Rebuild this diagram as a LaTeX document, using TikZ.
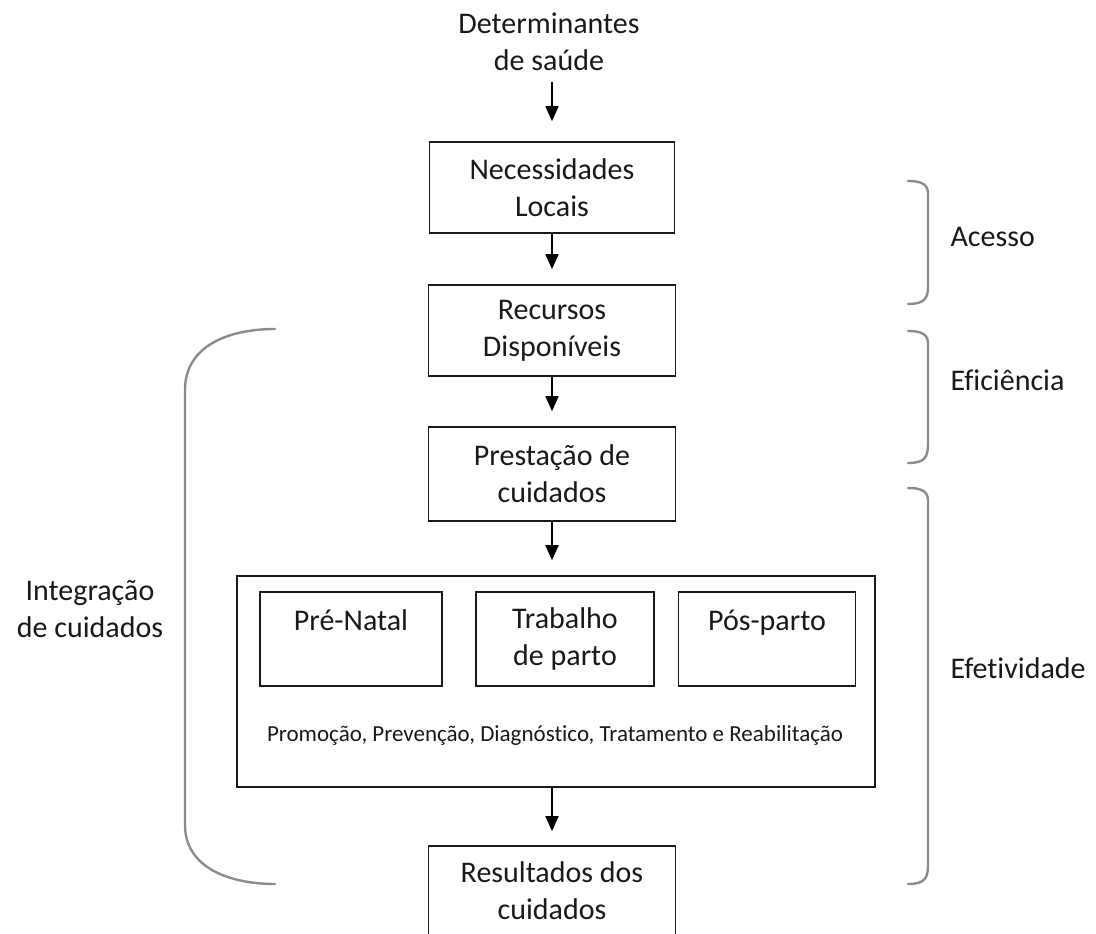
\documentclass[tikz,border=0pt]{standalone}
\usepackage{fontspec}
\setmainfont{Carlito}[Ligatures=NoCommon]
\usetikzlibrary{arrows.meta}
\begin{document}
\begin{tikzpicture}[x=1pt,y=-1pt,
  txt/.style={font=\fontsize{30}{37}\selectfont, align=center, text=black!90},
  box/.style={txt, draw=black!90, line width=1.6pt, inner sep=0pt},
  arr/.style={draw=black, line width=1.6pt, -{Triangle[width=13pt,length=15pt]}},
  brace/.style={draw=black!45, line width=2.4pt, line cap=round},
]
\useasboundingbox (0,0) rectangle (1096,934);
% main column
\node[txt] (det) at (549,42) {Determinantes\\de saúde};
\node[box, minimum width=245pt, minimum height=91pt] (nec) at (552,187.5) {Necessidades\\Locais};
\node[box, minimum width=247pt, minimum height=91pt] (rec) at (552,330.5) {Recursos\\Disponíveis};
\node[box, minimum width=247pt, minimum height=94pt] (pre) at (552,474) {Prestação de\\cuidados};
\node[box, minimum width=638pt, minimum height=211pt] (care) at (556,681.5) {};
\node[box, minimum width=182pt, minimum height=94pt] (pn) at (351,639) {Pré-Natal\\\mbox{}};
\node[box, minimum width=178pt, minimum height=94pt] (tp) at (565,639) {Trabalho\\de parto};
\node[box, minimum width=177pt, minimum height=94pt] (pp) at (767,639) {Pós-parto\\\mbox{}};
\node[txt, font=\fontsize{23}{28}\selectfont] (list) at (555,735) {Promoção, Prevenção, Diagnóstico, Tratamento e Reabilitação};
\node[box, minimum width=247pt, minimum height=90pt] (res) at (552,891) {Resultados dos\\cuidados};
% arrows
\draw[arr, shorten <=8pt, shorten >=20pt] (det.south -| nec.north) -- (nec);
\draw[arr, shorten >=15pt] (nec) -- (rec);
\draw[arr, shorten >=15pt] (rec) -- (pre);
\draw[arr, shorten >=15pt] (pre.south) -- (pre.south |- care.north);
\draw[arr, shorten >=14pt] (care.south -| res.north) -- (res);
% right brackets
\coordinate (a1) at (908,181); \coordinate (a2) at (908,304);
\draw[brace] (a1) .. controls (930,181) and (928,190) .. (928,200) -- (928,286) .. controls (928,298) and (925,304) .. (a2);
\coordinate (e1) at (908,331); \coordinate (e2) at (908,463);
\draw[brace] (e1) .. controls (930,331) and (928,340) .. (928,350) -- (928,444) .. controls (928,457) and (925,463) .. (e2);
\coordinate (f1) at (908,488); \coordinate (f2) at (908,884);
\draw[brace] (f1) .. controls (930,488) and (928,497) .. (928,507) -- (928,865) .. controls (928,878) and (925,884) .. (f2);
% left bracket
\coordinate (l1) at (275,329); \coordinate (l2) at (275,884);
\draw[brace] (l1) .. controls (230,329) and (185,345) .. (185,390) -- (185,825) .. controls (185,868) and (230,884) .. (l2);
% labels
\node[txt, anchor=west] (acc) at (947,237) {Acesso};
\node[txt, anchor=west] (efi) at (947,380) {Eficiência};
\node[txt, anchor=west] (eft) at (947,668) {Efetividade};
\node[txt] (int) at (90,609) {Integração\\de cuidados};
\end{tikzpicture}
\end{document}
